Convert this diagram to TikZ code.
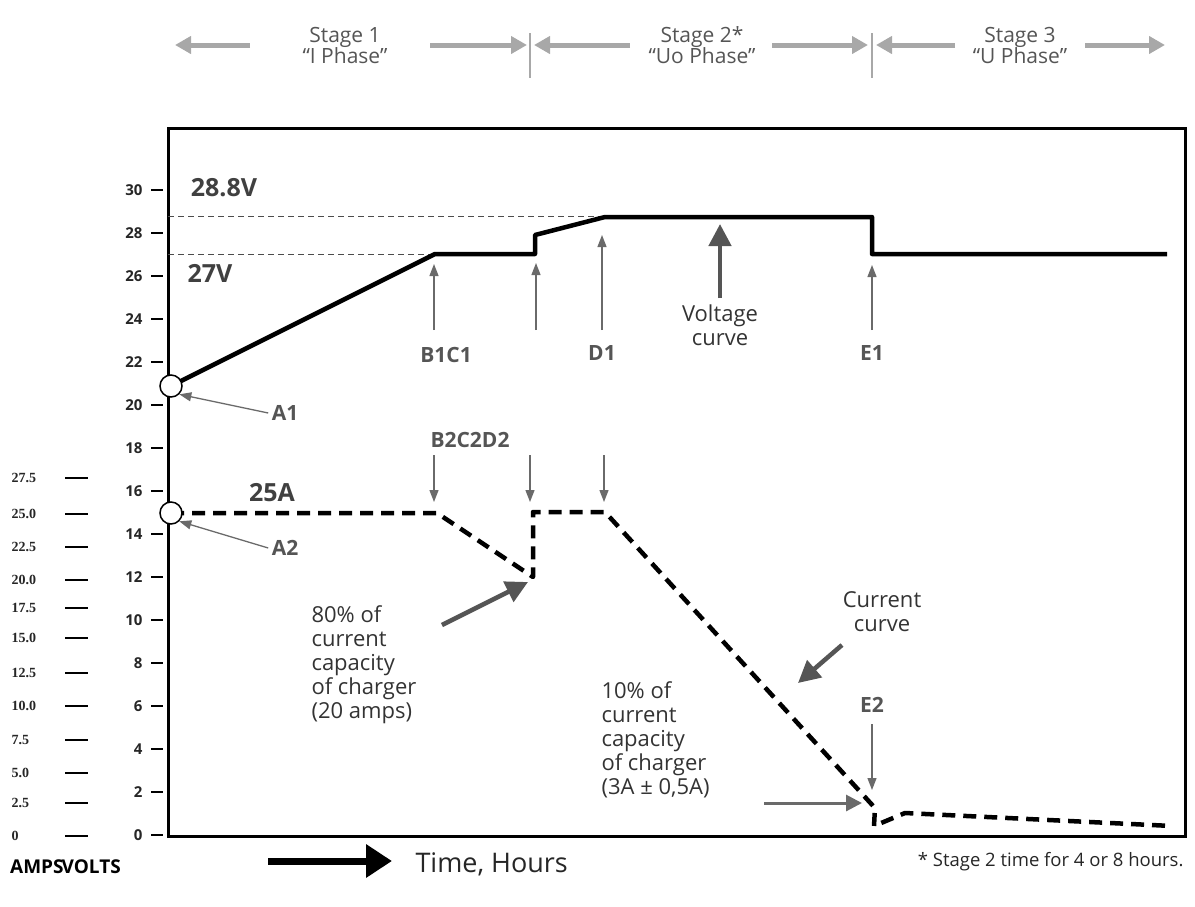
\documentclass[tikz,border=0pt]{standalone}
\usepackage{fontspec}
\setmainfont{Open Sans}
\newfontfamily\serifb{Liberation Serif}
\usetikzlibrary{arrows.meta}
\definecolor{lg}{HTML}{A8A8A8}
\definecolor{dg}{HTML}{555555}
\definecolor{ag}{HTML}{6A6A6A}
\begin{document}
\begin{tikzpicture}[x=1pt,y=-1pt,
  lab/.style={text=dg,font=\fontsize{21}{22}\selectfont\bfseries},
  txt/.style={text=black!80,font=\fontsize{22}{24}\selectfont,align=left},
  stg/.style={text=dg,font=\fontsize{21}{21}\selectfont,align=center},
  thin/.style={ag,line width=1.3pt,-{Triangle[length=12pt,width=9pt]}},
  big/.style={dg,line width=4.5pt,-{Triangle[length=22pt,width=22pt]}},
  garr/.style={lg,line width=5pt,-{Triangle[length=16pt,width=17pt]}},
  vax/.style={font=\fontsize{15}{16}\selectfont\bfseries,text=black!85,anchor=east},
  aax/.style={font=\serifb\fontsize{14}{15}\selectfont\bfseries,text=black!85,anchor=west},
  volt/.style={line width=4.5pt,line join=round},
  curr/.style={line width=4.5pt,dash pattern=on 13pt off 8pt,line join=round}]
\useasboundingbox (0,0) rectangle (1195,906);
% stages
\node[stg] (s1) at (345,45) {Stage 1\\“I Phase”};
\node[stg] (s2) at (702,45) {Stage 2*\\“Uo Phase”};
\node[stg] (s3) at (1020,45) {Stage 3\\“U Phase”};
\coordinate (sep1a) at (530,33); \coordinate (sep1b) at (530,78);
\coordinate (sep2a) at (872,33); \coordinate (sep2b) at (872,78);
\draw[lg,line width=1.5pt] (sep1a)--(sep1b) (sep2a)--(sep2b);
\coordinate (a1) at (250,45); \coordinate (a1e) at (175,45);
\coordinate (a2) at (430,45); \coordinate (a2e) at (527,45);
\coordinate (a3) at (630,45); \coordinate (a3e) at (534,45);
\coordinate (a4) at (772,45); \coordinate (a4e) at (868,45);
\coordinate (a5) at (955,45); \coordinate (a5e) at (876,45);
\coordinate (a6) at (1085,45); \coordinate (a6e) at (1165,45);
\foreach \p/\q in {a1/a1e,a2/a2e,a3/a3e,a4/a4e,a5/a5e,a6/a6e}\draw[garr] (\p)--(\q);
% box
\draw[line width=3pt] (168,128) rectangle (1185,836);
% volts axis
\foreach \v in {0,2,...,30}{
  \node[vax] at (146,{835-21.5*\v}) {\v};
  \draw[line width=1.5pt] (151,{835-21.5*\v})--(163,{835-21.5*\v});}
% amps axis
\foreach \a/\y in {27.5/478,25.0/514,22.5/547,20.0/580,17.5/608,15.0/638,12.5/673,10.0/706,7.5/740,5.0/773,2.5/803,0/836}{
  \node[aax] at (8,\y) {\a};
  \draw[line width=1.3pt] (65,\y)--(88,\y);}
\node[font=\fontsize{19}{20}\selectfont\bfseries,anchor=west,inner sep=0pt] (ax) at (10,867) {AMPS\kern-2pt VOLTS};
% dashed refs
\draw[black!70,line width=0.8pt,dash pattern=on 6pt off 4pt] (168,216)--(600,216) (168,254)--(432,254);
\node[font=\fontsize{25}{27}\selectfont\bfseries,text=black!75] (v288) at (224,188) {28.8V};
\node[font=\fontsize{25}{27}\selectfont\bfseries,text=black!75] (v27) at (210,273) {27V};
% voltage curve
\draw[volt] (171,386)--(435,254)--(535,254)--(535,235)--(605,217)--(872,217)--(872,254)--(1167,254);
\node[circle,draw,line width=1.5pt,fill=white,minimum size=22pt,inner sep=0pt] (c1) at (171,386) {};
% current curve
\draw[curr] (171,513)--(437,513)--(533,577)--(533,512)--(605,512)--(875,808)--(874,826)--(905,813)--(1172,826);
\node[circle,draw,line width=1.5pt,fill=white,minimum size=22pt,inner sep=0pt] (c2) at (171,513) {};
\node[font=\fontsize{25}{27}\selectfont\bfseries,text=black!75] (i25) at (272,493) {25A};
% up arrows
\node[lab] (b1) at (446,355) {B1C1};
\node[lab] (d1) at (602,353) {D1};
\node[lab] (e1) at (872,353) {E1};
\coordinate (u1) at (434,330); \coordinate (u1e) at (434,264);
\coordinate (u2) at (536,330); \coordinate (u2e) at (536,263);
\coordinate (u3) at (602,330); \coordinate (u3e) at (602,235);
\coordinate (u4) at (872,330); \coordinate (u4e) at (872,265);
\foreach \p/\q in {u1/u1e,u2/u2e,u3/u3e,u4/u4e}\draw[thin] (\p)--(\q);
\coordinate (vc) at (720,298); \coordinate (vce) at (720,224);
\draw[big] (vc)--(vce);
\node[txt,align=center] (vtxt) at (720,325) {Voltage\\curve};
% A1, A2
\node[lab] (la1) at (285,413) {A1};
\node[lab] (la2) at (285,548) {A2};
\draw[thin] (la1.west)--(c1.south east);
\draw[thin] (la2.west)--(c2.south east);
% down arrows
\node[lab] (b2) at (470,440) {B2C2D2};
\coordinate (d1s) at (434,455); \coordinate (d1e) at (434,502);
\coordinate (d2s) at (530,455); \coordinate (d2e) at (530,502);
\coordinate (d3s) at (604,455); \coordinate (d3e) at (604,502);
\foreach \p/\q in {d1s/d1e,d2s/d2e,d3s/d3e}\draw[thin] (\p)--(\q);
% 80% text
\node[txt,anchor=north west] (t80) at (308,602) {80\% of\\current\\capacity\\of charger\\(20 amps)};
\coordinate (b80) at (442,625); \coordinate (b80e) at (528,582);
\draw[big] (b80)--(b80e);
% current curve label
\node[txt,align=center] (cc) at (882,612) {Current\\curve};
\coordinate (bcc) at (842,645); \coordinate (bcce) at (798,683);
\draw[big] (bcc)--(bcce);
% 10% text
\node[txt,anchor=north west] (t10) at (598,678) {10\% of\\current\\capacity\\of charger\\(3A ± 0,5A)};
\coordinate (b10) at (764,803); \coordinate (b10e) at (862,803);
\draw[ag,line width=3pt,-{Triangle[length=16pt,width=16pt]}] (b10)--(b10e);
% E2
\node[lab] (e2) at (872,705) {E2};
\coordinate (e2s) at (872,724); \coordinate (e2e) at (872,790);
\draw[thin] (e2s)--(e2e);
% bottom
\coordinate (ta) at (268,861); \coordinate (tae) at (392,861);
\draw[black,line width=7pt,-{Triangle[length=26pt,width=32pt]}] (ta)--(tae);
\node[font=\fontsize{27}{29}\selectfont,text=black!85,anchor=west] (th) at (412,864) {Time, Hours};
\node[font=\fontsize{18.5}{20}\selectfont,text=black!85,anchor=east] (st) at (1187,862) {* Stage 2 time for 4 or 8 hours.};
\end{tikzpicture}
\end{document}
